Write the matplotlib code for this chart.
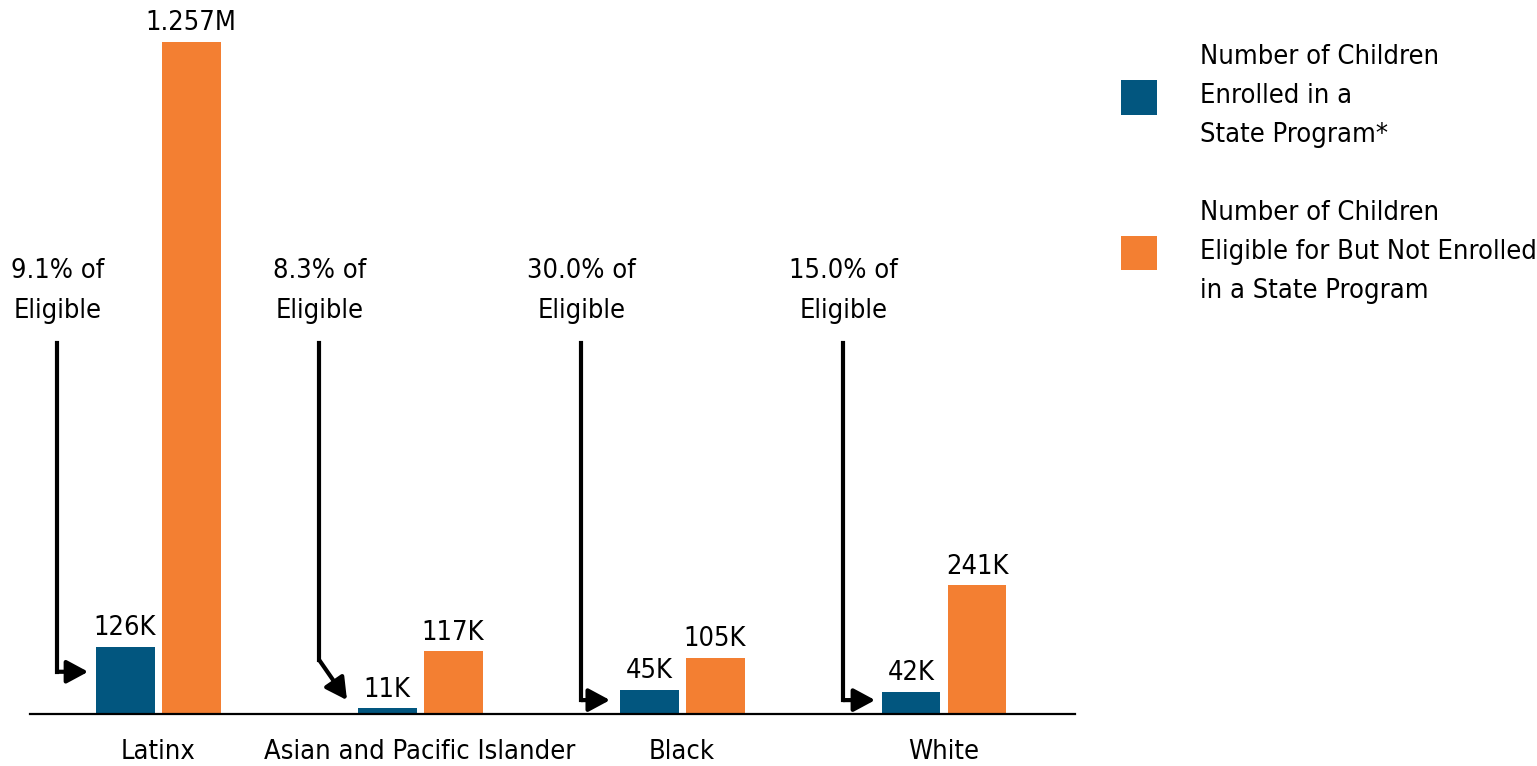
import numpy as np
import matplotlib.pyplot as plt

plt.rcParams['font.family'] = ['DejaVu Sans']
plt.rcParams['font.stretch'] = 'condensed'

# data (thousands of children)
groups = ["Latinx", "Asian and Pacific Islander", "Black", "White"]
enrolled = [126, 11, 45, 42]
not_enrolled = [1257, 117, 105, 241]
enrolled_labels = ["126K", "11K", "45K", "42K"]
not_enrolled_labels = ["1.257M", "117K", "105K", "241K"]
pct_labels = ["9.1% of\nEligible", "8.3% of\nEligible", "30.0% of\nEligible", "15.0% of\nEligible"]

blue = "#02567F"
orange = "#F37F32"
fs = 19.5

fig = plt.figure(figsize=(15.37, 7.66), dpi=100)
ax = fig.add_axes([30/1537, 1 - 714/766, (1075 - 30)/1537, (714 - 30)/766])

x = np.arange(len(groups))
w = 0.225
b1 = ax.bar(x - 0.126, enrolled, w, color=blue, label="Number of Children\nEnrolled in a\nState Program*")
b2 = ax.bar(x + 0.126, not_enrolled, w, color=orange,
            label="Number of Children\nEligible for But Not Enrolled\nin a State Program")
ax.bar_label(b1, enrolled_labels, padding=4, fontsize=fs)
ax.bar_label(b2, not_enrolled_labels, padding=4, fontsize=fs)

ax.set_xlim(-0.489, 3.5)
ax.set_ylim(0, 684/0.5346)
ax.set_xticks(x)
ax.set_xticklabels(groups, fontsize=fs)
ax.tick_params(axis='x', length=0, pad=18)
ax.set_yticks([])
for s in ["top", "right", "left"]:
    ax.spines[s].set_visible(False)
ax.spines["bottom"].set_linewidth(1.6)

# annotation arrows (x offsets from group centre, y in data units)
line_dx = -0.385
tip_dx = [-0.267, -0.279, -0.275, -0.263]
tip_y = [79, 26, 26, 26]
corner_y = [79, 101, 26, 26]
for i in range(len(groups)):
    ax.text(x[i] + line_dx, 791, pct_labels[i], ha='center', va='center', fontsize=fs, linespacing=1.7)
    ax.plot([x[i] + line_dx, x[i] + line_dx], [694, corner_y[i]], color='black', lw=3,
            solid_capstyle='projecting')
    ax.annotate("", xy=(x[i] + tip_dx[i], tip_y[i]), xytext=(x[i] + line_dx, corner_y[i]),
                arrowprops=dict(arrowstyle='-|>,head_length=1.3,head_width=0.7', color='black', lw=3,
                                shrinkA=0, shrinkB=0))

leg = fig.legend(loc='upper left', bbox_to_anchor=(1097/1537, 1 - 20/766), frameon=False, fontsize=fs,
                 handlelength=1.3, handleheight=1.6, handletextpad=1.6, labelspacing=1.9)
for t in leg.get_texts():
    t.set_linespacing(1.65)

fig.savefig("out.png", dpi=100)
